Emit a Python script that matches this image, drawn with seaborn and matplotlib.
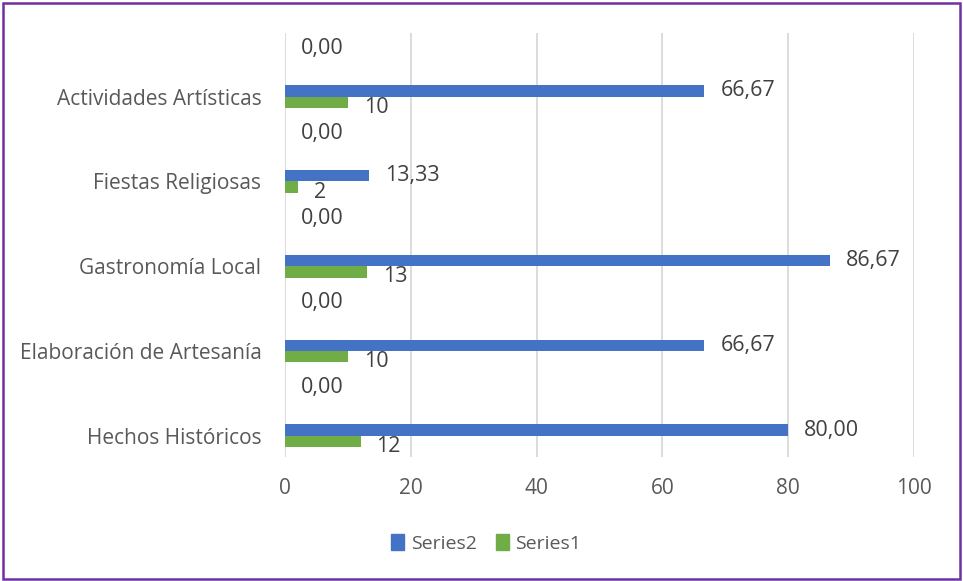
import numpy as np
import pandas as pd
import matplotlib
matplotlib.use("Agg")
import matplotlib.pyplot as plt
from matplotlib.patches import Rectangle
import seaborn as sns

sns.set_theme(style="white")
plt.rcParams['font.family'] = ['Open Sans', 'DejaVu Sans']

# chart rows from top to bottom; blank rows carry only a 0,00 label
categories = ["", "Actividades Artísticas", "", "Fiestas Religiosas", "",
              "Gastronomía Local", "", "Elaboración de Artesanía", "", "Hechos Históricos"]
series2 = [0.0, 66.67, 0.0, 13.33, 0.0, 86.67, 0.0, 66.67, 0.0, 80.00]
series1 = [np.nan, 10, np.nan, 2, np.nan, 13, np.nan, 10, np.nan, 12]
xticks = [0, 20, 40, 60, 80, 100]

keys = ["row%d" % i for i in range(len(categories))]
df = pd.concat([
    pd.DataFrame({"key": keys, "value": series2, "series": "Series2"}),
    pd.DataFrame({"key": keys, "value": series1, "series": "Series1"}),
]).dropna()

blue = "#4472C4"
green = "#70AD47"
txt = "#595959"

fig = plt.figure(figsize=(9.63, 5.81), dpi=100)
ax = fig.add_axes([0.296, 0.2134, 0.653, 0.7298])

sns.barplot(data=df, x="value", y="key", hue="series", order=keys,
            hue_order=["Series2", "Series1"], palette=[blue, green],
            orient="h", width=0.54, dodge=True, ax=ax, saturation=1, linewidth=0)
ax.get_legend().remove()

# data labels
for cont, name in zip(ax.containers, ["Series2", "Series1"]):
    for bar in cont:
        w = bar.get_width()
        if np.isnan(w):
            continue
        yc = bar.get_y() + bar.get_height() / 2
        if name == "Series2":
            lab = f"{w:.2f}".replace(".", ",")
            dy = 0
        else:
            lab = f"{w:.0f}"
            dy = -5
        ax.annotate(lab, (w, yc), xytext=(16, dy), textcoords="offset pixels",
                    ha="left", va="center", fontsize=15.5, color="#404040")

ax.set_xlim(0, 100)
ax.set_xticks(xticks)
ax.set_xticklabels([str(t) for t in xticks])
ax.set_yticks(range(len(categories)))
ax.set_yticklabels(categories)
ax.set_xlabel("")
ax.set_ylabel("")
ax.tick_params(axis="x", length=0, pad=15, labelsize=15, labelcolor=txt)
ax.tick_params(axis="y", length=0, pad=17, labelsize=15, labelcolor=txt)
ax.grid(axis="x", color="#D9D9D9", linewidth=1.3)
ax.set_axisbelow(True)
for s in ax.spines.values():
    s.set_visible(False)

handles = [Rectangle((0, 0), 1, 1, color=blue), Rectangle((0, 0), 1, 1, color=green)]
fig.legend(handles, ["Series2", "Series1"], loc="center", bbox_to_anchor=(0.505, 0.065),
           ncol=2, frameon=False, handlelength=0.65, handleheight=0.9, handletextpad=0.35,
           columnspacing=1.0, prop={"size": 14}, labelcolor=txt)

# purple outer frame
fig.patches.append(Rectangle((0.003, 0.004), 0.994, 0.99, transform=fig.transFigure,
                             fill=False, edgecolor="#7030A0", linewidth=1.8))

fig.savefig("out.png", dpi=100)
